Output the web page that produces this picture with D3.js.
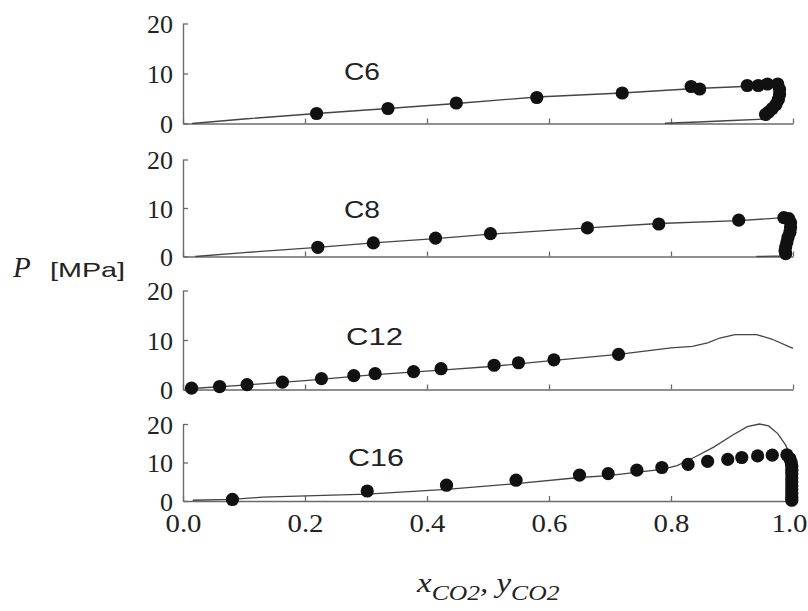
<!DOCTYPE html>
<html><head><meta charset="utf-8">
<script src="https://cdn.jsdelivr.net/npm/d3@7"></script>
<style>html,body{margin:0;padding:0;background:#fff}svg{display:block}</style>
</head><body>
<svg id="chart" width="808" height="611"></svg>
<script>
// ---------- data ----------
const xTicks = [0.0, 0.2, 0.4, 0.6, 0.8, 1.0];
const yTicks = [0, 10, 20];
const panelNames = ["C6", "C8", "C12", "C16"];

const c6Points = [[0.219,2.0],[0.336,3.0],[0.448,4.1],[0.58,5.2],[0.72,6.1],[0.833,7.4],[0.847,6.9],
  [0.925,7.6],[0.943,7.6],[0.958,7.9],[0.975,7.9],[0.978,6.8],[0.978,5.8],[0.976,4.8],[0.972,3.8],
  [0.966,3.0],[0.96,2.3],[0.955,1.8]];
const c6Curve = [[0.015,0],[0.1,0.9],[0.219,2.0],[0.336,3.0],[0.448,4.0],[0.58,5.3],[0.72,6.1],[0.84,7.0],
  [0.9,7.3],[0.95,7.6],[0.975,7.9],[0.978,6.5],[0.975,4.5],[0.965,3.0],[0.956,1.8],[0.955,0.9],
  [0.9,0.6],[0.845,0.3],[0.79,0.05]];

const c8Points = [[0.221,1.9],[0.312,2.8],[0.414,3.8],[0.504,4.7],[0.663,5.9],[0.78,6.7],[0.911,7.5],
  [0.985,8.0],[0.993,7.8],[0.996,7.0],[0.996,6.0],[0.995,5.0],[0.992,4.0],[0.99,3.0],[0.988,2.0],
  [0.987,1.2],[0.988,0.6]];
const c8Curve = [[0.02,0],[0.1,0.8],[0.221,1.9],[0.312,2.8],[0.414,3.7],[0.504,4.6],[0.663,5.9],[0.78,6.8],
  [0.911,7.4],[0.985,8.0],[0.993,6.0],[0.99,3.0],[0.988,1.0],[0.985,0.1],[0.94,0.0]];

const c12Points = [[0.014,0.27],[0.06,0.6],[0.105,1.0],[0.163,1.5],[0.227,2.2],[0.28,2.8],[0.315,3.2],
  [0.378,3.6],[0.423,4.2],[0.51,4.9],[0.55,5.4],[0.608,6.0],[0.714,7.1]];
const c12Curve = [[0.014,0.2],[0.1,0.9],[0.2,1.8],[0.315,3.0],[0.423,3.9],[0.51,4.7],[0.608,5.9],[0.714,7.1],
  [0.8,8.4],[0.835,8.7],[0.86,9.4],[0.88,10.4],[0.905,11.1],[0.94,11.1],[0.965,10.2],[1.0,8.3]];

const c16Points = [[0.081,0.4],[0.302,2.6],[0.432,4.1],[0.546,5.4],[0.65,6.7],[0.697,7.1],[0.744,8.0],
  [0.785,8.7],[0.828,9.5],[0.86,10.3],[0.893,10.8],[0.916,11.3],[0.942,11.7],[0.966,11.9],
  [0.99,12.0],[0.995,11.0],[0.997,10.0],[0.998,9.0],[0.998,8.0],[0.998,7.0],[0.998,6.0],[0.998,5.0],
  [0.998,4.0],[0.998,3.0],[0.998,2.0],[0.998,1.0],[0.998,0.2]];
const c16Curve = [[0.016,0.2],[0.08,0.4],[0.13,1.0],[0.302,1.8],[0.432,3.0],[0.546,4.5],[0.65,6.1],[0.697,6.6],
  [0.785,8.2],[0.81,9.2],[0.84,11.5],[0.87,14.0],[0.9,17.0],[0.925,19.3],[0.945,20.0],[0.96,19.5],
  [0.975,17.5],[0.988,14.5],[0.995,12.0],[0.997,6.0],[0.997,0]];

const panelPoints = [c6Points, c8Points, c12Points, c16Points];
const panelCurves = [c6Curve, c8Curve, c12Curve, c16Curve];

// ---------- layout ----------
const W = 808, H = 611;
const panelLayout = [
  {y0: 123.5, y20: 23.5, lx: 344, ly: 80,  lw: 36},
  {y0: 256.5, y20: 159.5, lx: 344, ly: 218, lw: 36},
  {y0: 389.5, y20: 290.5, lx: 346, ly: 345, lw: 57},
  {y0: 501,   y20: 424,   lx: 348, ly: 466, lw: 56}
];
const serif = "'Liberation Serif', 'Times New Roman', serif";
const sans = "'Liberation Sans', Arial, sans-serif";
const axisColor = "#6a6a6a";

const svg = d3.select("#chart");
svg.append("rect").attr("width", W).attr("height", H).attr("fill", "#fff");

const x = d3.scaleLinear().domain([0, 1]).range([183, 793]);

panelNames.forEach((name, i) => {
  const L = panelLayout[i];
  const y = d3.scaleLinear().domain([0, 20]).range([L.y0, L.y20]);
  const g = svg.append("g");

  // x axis
  const xa = d3.axisBottom(x).tickValues(xTicks).tickSizeInner(-5).tickSizeOuter(0)
    .tickPadding(8).tickFormat(i === 3 ? d3.format(".1f") : () => "");
  const gx = g.append("g").attr("transform", `translate(0,${L.y0})`).call(xa);
  gx.attr("font-family", null).attr("font-size", null);
  gx.select(".domain").attr("stroke", axisColor).attr("stroke-width", 1.4);
  gx.selectAll(".tick line").attr("stroke", axisColor).attr("stroke-width", 1.3);
  gx.selectAll(".tick text").style("font-family", serif).style("font-size", "26px")
    .attr("fill", "#222").attr("dy", "0.9em")
    .attr("dx", d => d === 1 ? -4 : 0)
    .attr("textLength", 36).attr("lengthAdjust", "spacingAndGlyphs");

  // y axis
  const ya = d3.axisLeft(y).tickValues(yTicks).tickSizeInner(-5).tickSizeOuter(0)
    .tickPadding(10).tickFormat(d3.format("d"));
  const gy = g.append("g").attr("transform", `translate(183,0)`).call(ya);
  gy.attr("font-family", null).attr("font-size", null);
  gy.select(".domain").attr("stroke", axisColor).attr("stroke-width", 1.4);
  gy.selectAll(".tick line").attr("stroke", axisColor).attr("stroke-width", 1.3);
  gy.selectAll(".tick text").style("font-family", serif).style("font-size", "26px")
    .attr("fill", "#222").attr("dy", "0.36em");

  // curve
  const line = d3.line().x(d => x(d[0])).y(d => y(d[1]));
  g.append("path").datum(panelCurves[i]).attr("d", line)
    .attr("fill", "none").attr("stroke", "#444").attr("stroke-width", 1.3);

  // points
  g.selectAll("circle.pt").data(panelPoints[i]).join("circle").attr("class", "pt")
    .attr("cx", d => x(d[0])).attr("cy", d => y(d[1])).attr("r", 6.6).attr("fill", "#111");

  // panel label
  g.append("text").attr("x", L.lx).attr("y", L.ly).style("font-family", sans)
    .style("font-size", "24px").attr("fill", "#222")
    .attr("textLength", L.lw).attr("lengthAdjust", "spacingAndGlyphs").text(name);
});

// y axis title
svg.append("text").attr("x", 13).attr("y", 277).attr("fill", "#222")
  .style("font-family", serif).style("font-style", "italic").style("font-size", "29px").text("P");
svg.append("text").attr("x", 50).attr("y", 277).attr("fill", "#222")
  .style("font-family", sans).style("font-size", "21px")
  .attr("textLength", 75).attr("lengthAdjust", "spacingAndGlyphs").text("[MPa]");

// x axis title
const xt = svg.append("g").attr("transform", "translate(417,592) scale(1.22,1)")
  .append("text").attr("x", 0).attr("y", 0).attr("fill", "#222")
  .style("font-family", serif).style("font-style", "italic");
xt.append("tspan").style("font-size", "27px").text("x");
xt.append("tspan").style("font-size", "21px").attr("dy", 8).text("CO2");
xt.append("tspan").style("font-size", "27px").attr("dy", -8).text(", y");
xt.append("tspan").style("font-size", "21px").attr("dy", 8).text("CO2");
</script>
</body></html>
